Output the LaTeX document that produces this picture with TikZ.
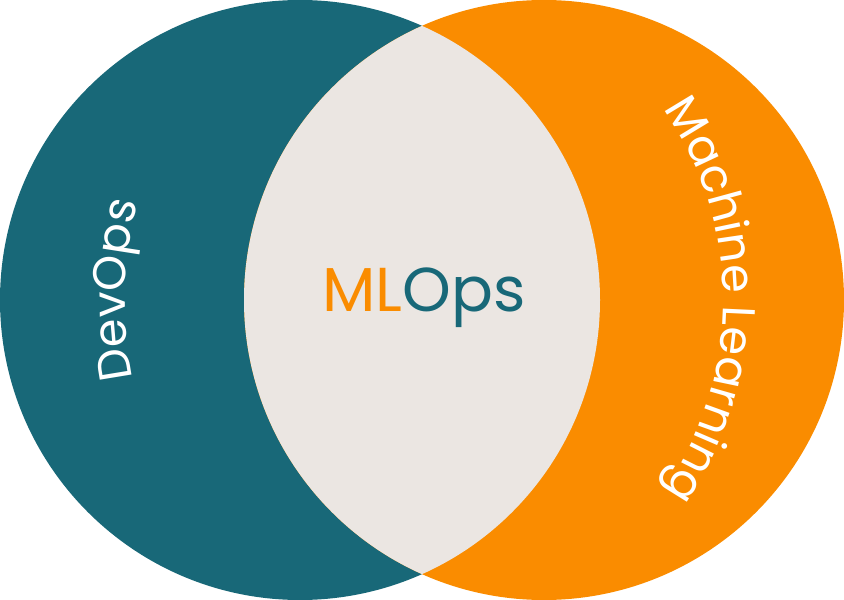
\documentclass[tikz,border=0pt]{standalone}
\usepackage{fontspec}
\setmainfont{Poppins}
\usetikzlibrary{decorations.text}
\definecolor{teal1}{RGB}{24,104,120}
\definecolor{orange1}{RGB}{250,140,0}
\definecolor{lens}{RGB}{235,230,226}
\tikzset{arclabel/.style={decorate,decoration={text along path,text align=center,text color=white,text={#1}}}}
\begin{document}
\begin{tikzpicture}[x=1pt,y=1pt]
\useasboundingbox (0,0) rectangle (844,600);
\fill[teal1] (300,300) circle[radius=300];
\fill[orange1] (544,300) circle[radius=300];
\begin{scope}
\clip (300,300) circle[radius=300];
\fill[lens] (544,300) circle[radius=300];
\end{scope}
\node[anchor=base,inner sep=0pt,font=\fontsize{62}{74}\selectfont] (mlops) at (424,288) {\textcolor{orange1}{ML}\textcolor{teal1}{Ops}};
\path[arclabel={|\fontsize{46}{56}\selectfont|DevOps}]
  (510,300) ++(198.5:385) arc[start angle=198.5,end angle=158.5,radius=385];
\path[arclabel={|\fontsize{46}{56}\selectfont|Machine Learning}]
  (385,300) ++(40:338) arc[start angle=40,end angle=-40,radius=338];
\end{tikzpicture}
\end{document}
